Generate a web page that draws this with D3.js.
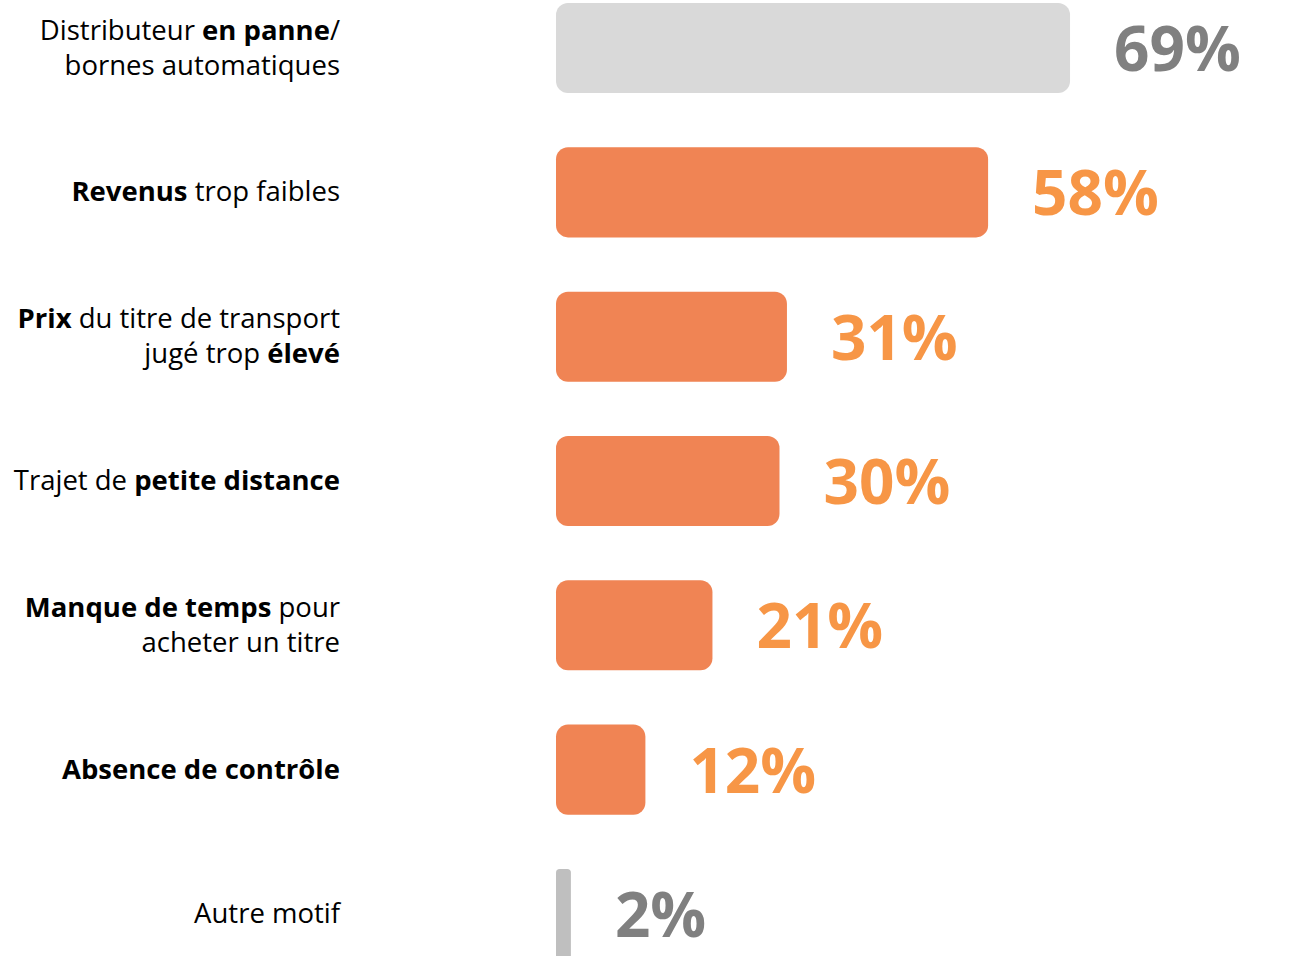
<!DOCTYPE html>
<html>
<head>
<meta charset="utf-8">
<script src="https://cdn.jsdelivr.net/npm/d3@7"></script>
<style>
  html, body { margin: 0; padding: 0; background: #ffffff; }
  svg { display: block; }
</style>
</head>
<body>
<svg id="chart" width="1316" height="956"></svg>
<script>
// ---- data ----
const categories = ["distributeur", "revenus", "prix", "trajet", "manque", "absence", "autre"];
const values = [69, 58, 31, 30, 21, 12, 2];
const valueLabels = ["69%", "58%", "31%", "30%", "21%", "12%", "2%"];
// label lines; each line is a list of [text, isBold]
const labelLines = [
  [[["Distributeur ", false], ["en panne", true], ["/", false]], [["bornes automatiques", false]]],
  [[["Revenus", true], [" trop faibles", false]]],
  [[["Prix", true], [" du titre de transport", false]], [["jugé trop ", false], ["élevé", true]]],
  [[["Trajet de ", false], ["petite distance", true]]],
  [[["Manque de temps", true], [" pour", false]], [["acheter un titre", false]]],
  [[["Absence de contrôle", true]]],
  [[["Autre motif", false]]]
];
const highlighted = [false, true, true, true, true, true, false];

// ---- layout ----
const W = 1316, H = 956;
const svg = d3.select("#chart");
const font = "'Open Sans', 'Noto Sans', sans-serif";

const y = d3.scaleBand().domain(categories).range([3, 959]).paddingInner(0.376).paddingOuter(0);
const x = d3.scaleLinear().domain([0, 100]).range([556, 556 + 745]);

const barFill = (d, i) => highlighted[i] ? "#f08454" : (i === 0 ? "#d9d9d9" : "#bfbfbf");
const textFill = (d, i) => highlighted[i] ? "#f79646" : "#808080";

svg.selectAll("rect.bar").data(values).join("rect")
  .attr("class", "bar")
  .attr("x", x(0))
  .attr("y", (d, i) => y(categories[i]))
  .attr("width", d => x(d) - x(0))
  .attr("height", y.bandwidth())
  .attr("rx", d => Math.min(12, (x(d) - x(0)) / 4))
  .attr("fill", barFill);

svg.selectAll("text.val").data(values).join("text")
  .attr("class", "val")
  .attr("x", d => x(d) + 44)
  .attr("y", (d, i) => y(categories[i]) + y.bandwidth() / 2 + 23)
  .attr("font-family", font)
  .attr("font-weight", 700)
  .attr("font-size", 62)
  .attr("fill", textFill)
  .text((d, i) => valueLabels[i]);

const lineH = 35;
const labelX = 340;
const lab = svg.selectAll("text.lab").data(categories).join("text")
  .attr("class", "lab")
  .attr("text-anchor", "end")
  .attr("font-family", font)
  .attr("font-size", 27.5)
  .attr("fill", "#000");

lab.each(function(c, i) {
  const lines = labelLines[i];
  const cy = y(c) + y.bandwidth() / 2;
  const y0 = cy - (lines.length - 1) * lineH / 2 + 9;
  const t = d3.select(this);
  lines.forEach((segs, li) => {
    segs.forEach((s, si) => {
      const ts = t.append("tspan").text(s[0]).attr("font-weight", s[1] ? 700 : 400);
      if (si === 0) ts.attr("x", labelX).attr("y", y0 + li * lineH);
    });
  });
});
</script>
</body>
</html>
